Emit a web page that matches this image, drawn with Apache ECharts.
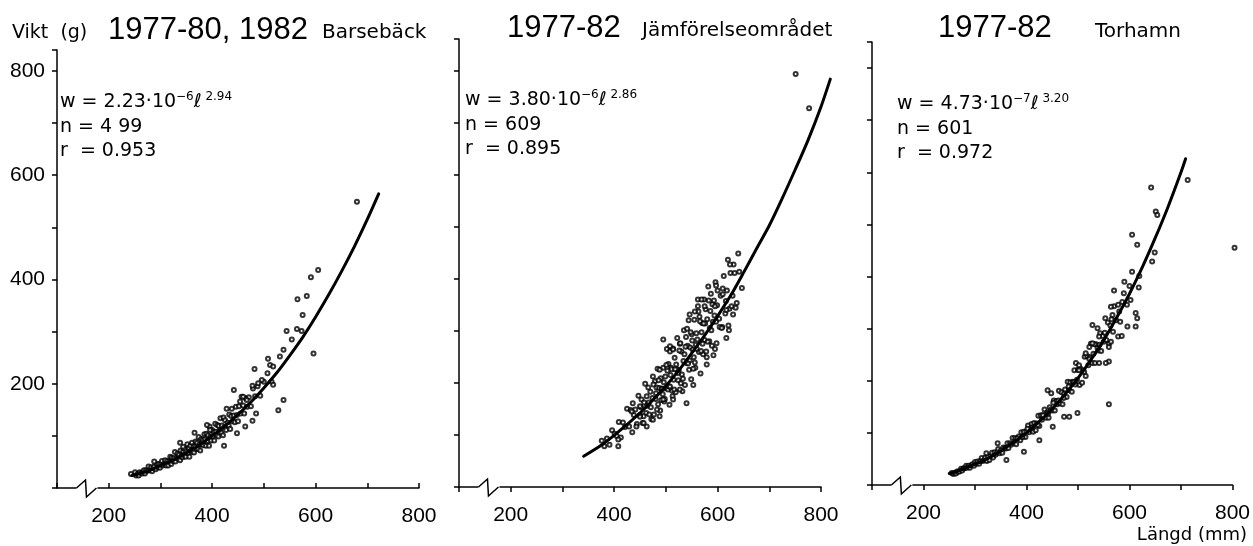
<!DOCTYPE html>
<html><head><meta charset="utf-8">
<script src="https://cdn.jsdelivr.net/npm/echarts@6/dist/echarts.min.js"></script>
<style>html,body{margin:0;padding:0;background:#fff}#c{width:1253px;height:546px}</style>
</head><body><div id="c"></div><script>
// ---------- DATA ----------
const xTickLabels = [200, 400, 600, 800];
const yTickLabels = [200, 400, 600, 800];
const yAxisTitle = 'Vikt  (g)';
const xAxisTitle = 'Längd (mm)';
const panelYears = ['1977-80, 1982', '1977-82', '1977-82'];
const panelAreas = ['Barsebäck', 'Jämförelseområdet', 'Torhamn'];
const fitCoef = ['2.23', '3.80', '4.73'];
const fitPow10 = ['−6', '−6', '−7'];
const fitExp = ['2.94', '2.86', '3.20'];
const nValues = ['4 99', '609', '601'];
const rValues = ['0.953', '0.895', '0.972'];
const axisBreakAt = 157;

// fitted curves (length mm, weight g)
const barsebackCurve = [[245,24],[275,32],[300,43],[325,54],[350,67],[375,82],[400,100],[425,119],[450,141],[475,165],[500,192],[525,221],[550,254],[575,289],[600,328],[625,370],[650,415],[675,463],[700,515],[722,564]];
const jamforelseCurve = [[341,59],[375,80],[400,99],[425,120],[450,142],[475,167],[500,194],[525,224],[550,257],[575,291],[600,328],[625,367],[650,411],[675,457],[700,502],[725,554],[750,609],[775,666],[800,730],[818,783]];
const torhamnCurve = [[250,22],[275,30],[300,40],[325,51],[350,65],[375,82],[400,100],[425,122],[450,146],[475,174],[500,205],[525,240],[550,278],[575,321],[600,367],[625,418],[650,474],[675,534],[700,600],[709,626]];

const barsebackPoints = [[251,30],[253,24],[256,27],[258,24],[260,30],[263,29],[265,28],[268,34],[270,28],[272,34],[275,33],[277,41],[279,34],[282,40],[284,32],[286,38],[288,41],[291,36],[293,46],[295,40],[297,46],[299,39],[301,45],[303,52],[305,43],[307,46],[309,53],[311,43],[313,52],[315,43],[317,51],[319,60],[321,46],[322,58],[324,52],[326,57],[328,69],[329,51],[331,58],[333,66],[334,56],[336,64],[338,53],[339,72],[341,62],[343,59],[344,70],[346,63],[347,75],[349,60],[350,70],[352,84],[353,67],[355,76],[356,60],[358,81],[359,72],[361,87],[362,69],[364,80],[365,68],[367,79],[368,89],[370,75],[371,87],[373,75],[374,98],[376,84],[377,72],[379,94],[380,84],[382,92],[383,82],[385,103],[386,93],[388,81],[389,104],[391,90],[392,101],[394,81],[395,118],[397,99],[398,91],[400,111],[401,99],[403,108],[404,91],[406,123],[407,108],[409,101],[410,121],[412,99],[413,119],[415,111],[416,134],[418,106],[419,120],[421,101],[422,135],[424,117],[425,130],[427,111],[428,152],[430,125],[432,120],[433,141],[435,113],[437,138],[438,152],[440,128],[442,139],[444,126],[446,156],[448,140],[450,128],[452,157],[455,143],[457,175],[460,158],[462,143],[465,172],[468,156],[471,174],[475,157],[479,191],[483,176],[488,195],[493,177],[500,204],[507,220],[515,204],
[605,418],[591,404],[565,362],[583,368],[575,332],[544,301],[554,285],[564,305],[573,301],[596,258],[538,265],[531,252],[508,248],[512,236],[518,233],[482,228],[538,169],[528,149],[518,198],[496,207],[489,201],[478,196],[442,188],[460,175],[454,166],[467,169],[485,143],[478,129],[464,118],[448,105],[423,81],[366,106],[390,121],[396,111],[338,87],[344,79],[288,51],[243,27],[680,549]];

const jamforelsePoints = [[376,89],[381,78],[386,93],[391,81],[396,109],[401,102],[405,98],[409,125],[413,95],[417,124],[421,115],[425,150],[429,116],[432,148],[435,105],[438,138],[441,149],[444,121],[447,175],[450,138],[453,168],[455,123],[458,162],[460,198],[462,142],[464,156],[466,191],[468,139],[470,183],[472,130],[474,171],[475,212],[477,139],[479,203],[480,169],[482,191],[484,227],[485,159],[487,190],[489,147],[490,209],[492,189],[494,178],[495,229],[497,164],[499,212],[500,190],[502,265],[504,187],[505,236],[507,158],[509,215],[510,229],[512,185],[514,266],[515,206],[517,248],[519,182],[520,235],[522,286],[524,205],[525,224],[527,275],[529,199],[530,260],[532,184],[534,242],[535,301],[537,196],[539,288],[540,238],[542,271],[544,320],[545,225],[547,268],[549,207],[550,293],[552,264],[554,249],[555,321],[557,229],[559,295],[560,265],[562,360],[564,259],[565,327],[567,218],[569,297],[570,315],[572,255],[574,360],[575,282],[577,341],[579,249],[580,322],[582,385],[584,280],[585,305],[587,371],[589,271],[590,351],[592,253],[594,329],[596,393],[598,276],[600,377],[603,323],[606,367],[609,307],[612,405],[615,333],[618,377],[621,310],[625,411],[629,367],[633,411],[637,353],[642,413],[647,382],
[481,180],[486,205],[491,167],[496,201],[501,234],[506,193],[511,226],[516,187],[521,226],[526,262],[531,216],[536,255],[541,304],[546,243],[551,281],[556,239],[561,283],[566,318],[571,275],[576,314],[581,279],[586,338],[591,317],[597,317],
[452,153],[457,136],[463,174],[467,162],[471,153],[476,197],[483,149],[488,225],[493,188],[498,169],[503,223],[508,260],[513,174],[518,226],[523,219],[528,276],[533,208],[538,269],[543,237],[548,297],[553,227],[558,273],[563,337],[568,261],[573,314],[578,260],[583,358],[588,301],[593,358],[599,349],[604,307],[610,381],[616,357],[623,342],
[640,448],[620,436],[631,427],[624,427],[597,387],[610,370],[627,347],[635,344],[617,340],[630,331],[569,360],[575,347],[562,347],[595,347],[546,331],[556,337],[608,305],[617,286],[622,301],[595,265],[579,235],[495,283],[508,270],[514,264],[540,161],[553,196],[408,91],[408,78],[436,161],[434,145],[450,155],[443,116],[463,116],[475,129],[488,136],[450,135],[457,123],[508,193],[495,168],[514,168],[527,187],[751,793],[777,727]];

const torhamnPoints = [[255,23],[258,21],[260,23],[263,22],[265,26],[268,26],[270,26],[273,31],[275,28],[278,32],[280,32],[283,37],[285,33],[288,37],[290,33],[293,38],[295,40],[298,37],[300,44],[303,41],[305,45],[308,41],[310,46],[313,52],[315,46],[318,48],[320,53],[323,46],[325,55],[328,48],[330,55],[333,62],[335,53],[338,63],[340,58],[343,63],[345,69],[348,61],[350,66],[353,62],[355,72],[358,71],[360,70],[363,80],[365,71],[368,80],[370,77],[373,90],[375,80],[378,90],[380,78],[383,89],[385,93],[388,86],[390,101],[393,93],[395,102],[398,92],[400,103],[403,114],[405,101],[408,106],[410,117],[413,102],[415,119],[418,105],[420,118],[423,133],[425,113],[428,134],[430,125],[433,134],[435,145],[438,129],[440,139],[443,129],[445,149],[448,145],[450,143],[453,162],[455,143],[458,161],[460,155],[463,181],[465,157],[468,178],[470,155],[473,175],[475,183],[478,169],[480,198],[483,182],[485,197],[488,179],[490,198],[493,220],[495,193],[498,202],[500,221],[503,192],[505,223],[508,196],[510,220],[513,246],[515,209],[518,247],[520,230],[523,245],[525,271],[528,234],[530,252],[533,234],[535,270],[538,263],[540,258],[543,291],[545,257],[548,286],[550,275],[553,320],[555,278],[558,312],[560,271],[563,306],[565,318],[568,294],[570,343],[574,316],[578,346],[582,313],[586,351],[590,390],[595,346],[600,382],
[382,89],[392,92],[402,108],[412,111],[422,115],[432,134],[442,137],[452,158],[462,162],[472,167],[482,189],[492,197],[502,220],[512,217],[522,242],[532,270],[542,269],[552,292],
[651,525],[654,518],[605,480],[615,461],[644,429],[649,446],[605,409],[619,401],[570,373],[589,368],[618,379],[612,330],[615,320],[602,355],[567,326],[564,342],[580,333],[596,304],[612,304],[528,307],[538,301],[541,285],[578,285],[585,286],[564,275],[560,265],[560,237],[554,234],[541,234],[496,234],[502,230],[522,265],[528,272],[515,253],[560,155],[499,138],[483,131],[473,131],[448,176],[441,182],[451,112],[425,86],[395,64],[361,48],[344,80],[322,61],[642,571],[713,585],[804,455]];

const curves = [barsebackCurve, jamforelseCurve, torhamnCurve];
const points = [barsebackPoints, jamforelsePoints, torhamnPoints];
const yMax = [840, 860, 850];

// ---------- LAYOUT ----------
const grids = [
  {left: 57, top: 50, width: 362, height: 438},
  {left: 459, top: 39, width: 362, height: 448},
  {left: 872, top: 42, width: 362, height: 443}
];
const TXT = "'DejaVu Sans', sans-serif";
const NUM = "'Liberation Sans', Arial, sans-serif";
const titlePos = [
  {year: [108, 15], area: [322, 23]},
  {year: [507, 13], area: [642, 21]},
  {year: [938, 13], area: [1095, 22]}
];
const annotPos = [[60, 91], [465, 89], [897, 93]];

const option = {
  animation: false,
  backgroundColor: '#fff',
  grid: grids.map(g => Object.assign({containLabel: false}, g)),
  xAxis: grids.map((g, i) => ({
    gridIndex: i, type: 'value', min: 100, max: 800, interval: 100,
    axisLine: {show: true, lineStyle: {color: '#000', width: 1.5}},
    axisTick: {show: true, length: 5, inside: i === 0, lineStyle: {color: '#000', width: 1.5}},
    axisLabel: {show: true, margin: 18, fontSize: 21, color: '#000', fontFamily: NUM,
      formatter: v => xTickLabels.includes(v) ? String(v) : ''},
    splitLine: {show: false}
  })),
  yAxis: grids.map((g, i) => ({
    gridIndex: i, type: 'value', min: 0, max: yMax[i], interval: 100,
    axisLine: {show: true, lineStyle: {color: '#000', width: 1.5}},
    axisTick: {show: true, length: 5, lineStyle: {color: '#000', width: 1.5}},
    axisLabel: {show: i === 0, margin: 12, fontSize: 21, color: '#000', fontFamily: NUM,
      formatter: v => yTickLabels.includes(v) ? String(v) : ''},
    splitLine: {show: false}
  })),
  series: [],
  graphic: []
};

for (let i = 0; i < 3; i++) {
  const curve = curves[i];
  option.series.push({
    type: 'scatter', xAxisIndex: i, yAxisIndex: i, data: points[i], clip: false,
    symbol: 'emptyCircle', symbolSize: 4, itemStyle: {color: '#000', borderColor: '#111', borderWidth: 1},
    z: 2, silent: true
  });
  // fitted curve, drawn through the axis scales (may run past the last axis tick, as in the figure)
  option.series.push({
    type: 'custom', xAxisIndex: i, yAxisIndex: i, data: curve, clip: false, z: 3, silent: true,
    renderItem: (params, api) => {
      if (params.dataIndex !== 0) return null;
      const pts = curve.map(d => api.coord(d));
      return {type: 'polyline', shape: {points: pts, smooth: 0.3},
        style: {stroke: '#000', lineWidth: 3, fill: null, lineCap: 'round'}};
    }
  });
  option.series.push({
    type: 'custom', xAxisIndex: i, yAxisIndex: i, data: [[axisBreakAt, 0]], z: 10, silent: true, clip: false,
    renderItem: (params, api) => {
      const p = api.coord([api.value(0), api.value(1)]);
      return {type: 'group', children: [
        {type: 'rect', shape: {x: p[0] - 10, y: p[1] - 2, width: 21, height: 4}, style: {fill: '#fff'}},
        {type: 'polyline', shape: {points: [[p[0] - 10, p[1]], [p[0] - 1, p[1] - 8], [p[0], p[1] + 9], [p[0] + 10, p[1]]]},
          style: {stroke: '#000', lineWidth: 1.5, fill: null}}
      ]};
    }
  });

  option.graphic.push({type: 'text', left: titlePos[i].year[0], top: titlePos[i].year[1],
    style: {text: panelYears[i], font: `31px ${NUM}`, fill: '#000'}});
  option.graphic.push({type: 'text', left: titlePos[i].area[0], top: titlePos[i].area[1],
    style: {text: panelAreas[i], font: `20px ${TXT}`, fill: '#000'}});
  const a = annotPos[i];
  option.graphic.push({type: 'text', left: a[0], top: a[1],
    style: {
      text: `{m|w = ${fitCoef[i]}·10}{s|${fitPow10[i]}}{m|ℓ}{s| ${fitExp[i]}}`,
      rich: {
        m: {fontSize: 19, fontFamily: TXT, lineHeight: 22, verticalAlign: 'middle', fill: '#000'},
        s: {fontSize: 12, fontFamily: TXT, lineHeight: 12, verticalAlign: 'top', fill: '#000'}
      }
    }});
  option.graphic.push({type: 'text', left: a[0], top: a[1] + 27,
    style: {text: `n = ${nValues[i]}`, font: `19px ${TXT}`, fill: '#000'}});
  option.graphic.push({type: 'text', left: a[0], top: a[1] + 51,
    style: {text: `r  = ${rValues[i]}`, font: `19px ${TXT}`, fill: '#000'}});
}
option.graphic.push({type: 'text', left: 12, top: 24, style: {text: yAxisTitle, font: `19px ${TXT}`, fill: '#000'}});
option.graphic.push({type: 'text', right: 6, top: 526, style: {text: xAxisTitle, font: `18px ${TXT}`, fill: '#000'}});

const chart = echarts.init(document.getElementById('c'), null, {renderer: 'canvas'});
chart.setOption(option);
</script></body></html>
